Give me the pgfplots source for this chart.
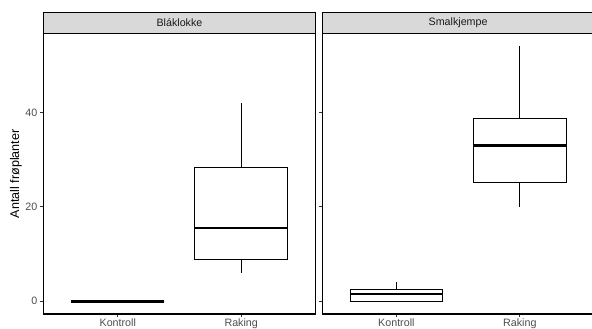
\documentclass[border=0pt]{standalone}
\usepackage{fontspec}
\setmainfont{Liberation Sans}
\usepackage{pgfplots}
\pgfplotsset{compat=1.18}
\usepgfplotslibrary{statistics}
\definecolor{stripfill}{HTML}{D9D9D9}
\definecolor{grey30}{HTML}{4D4D4D}
\definecolor{grey20}{HTML}{333333}
\definecolor{grey10}{HTML}{1A1A1A}
\pgfplotsset{
  facet/.style={
    width=271.6pt, height=280.3pt, scale only axis,
    xmin=0.4, xmax=2.6, ymin=-2.7, ymax=56.7,
    xtick={1,2}, xticklabels={Kontroll,Raking},
    ytick={0,20,40},
    tick align=outside, tick pos=left,
    major tick length=3.4pt,
    axis line style={line width=1.1pt, black},
    every tick/.style={line width=0.9pt, grey20},
    /pgf/number format/assume math mode=true,
    ticklabel style={font=\fontsize{10.7pt}{12pt}\selectfont, text=grey30, inner sep=0pt},
    xticklabel style={yshift=-1.6pt},
    yticklabel style={xshift=-2.7pt},
    boxplot/draw direction=y,
    boxplot/box extend=0.75,
    boxplot/whisker extend=0,
    boxplot/every median/.style={line width=2.5pt},
    clip=false,
  },
  bx/.style={draw=black, line width=1pt, solid, fill=white},
}
\begin{document}
\begin{tikzpicture}
\useasboundingbox (0,0) rectangle (592pt,329pt);
\begin{axis}[facet, name=L, at={(43.7pt,15pt)}, anchor=south west,
  ylabel={Antall frøplanter},
  ylabel style={font=\fontsize{12.6pt}{14pt}\selectfont, at={(axis description cs:-0.1024,0.5)}, anchor=center, inner sep=0pt}]
\addplot[bx, boxplot prepared={lower whisker=0, lower quartile=0, median=0, upper quartile=0, upper whisker=0, draw position=1}] coordinates {};
\addplot[bx, boxplot prepared={lower whisker=6, lower quartile=8.75, median=15.5, upper quartile=28.25, upper whisker=42, draw position=2}] coordinates {};
\end{axis}
\begin{axis}[facet, name=R, at={(322.3pt,15pt)}, anchor=south west, yticklabels={}]
\addplot[bx, boxplot prepared={lower whisker=0, lower quartile=0, median=1.5, upper quartile=2.5, upper whisker=4, draw position=1}] coordinates {};
\addplot[bx, boxplot prepared={lower whisker=20, lower quartile=25.25, median=33, upper quartile=38.75, upper whisker=54, draw position=2}] coordinates {};
\end{axis}
\draw[fill=stripfill, draw=black, line width=1.1pt] (L.north west) rectangle ([yshift=21.4pt]L.north east);
\draw[fill=stripfill, draw=black, line width=1.1pt] (R.north west) rectangle ([yshift=21.4pt]R.north east);
\node[font=\fontsize{10.7pt}{12pt}\selectfont, text=grey10] at ([yshift=10.7pt]L.north) {Bláklokke};
\node[font=\fontsize{10.7pt}{12pt}\selectfont, text=grey10] at ([yshift=10.7pt]R.north) {Smalkjempe};
\end{tikzpicture}
\end{document}
